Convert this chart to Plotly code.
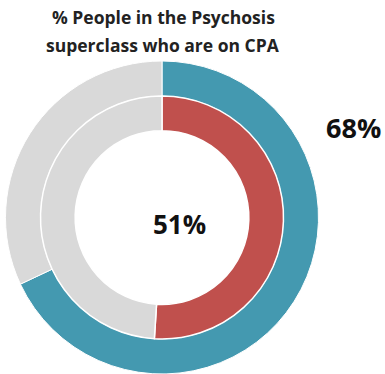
import plotly.graph_objects as go

W, H = 385, 374

outer_labels = ["On CPA", "Not on CPA"]
outer_values = [68, 32]
inner_labels = ["On CPA", "Not on CPA"]
inner_values = [51, 49]
outer_colors = ["#4499B0", "#D9D9D9"]
inner_colors = ["#C0504D", "#D9D9D9"]

title_lines = ["% People in the Psychosis", "superclass who are on CPA"]
outer_label = "68%"
inner_label = "51%"

cx, cy = 162, 217.5  # pixel centre (from top)
R_out, R_in = 156.5, 121.5


def dom(r):
    return dict(
        x=[(cx - r) / W, (cx + r) / W],
        y=[(H - cy - r) / H, (H - cy + r) / H],
    )


fig = go.Figure()
fig.add_trace(go.Pie(
    labels=outer_labels, values=outer_values, hole=0.775,
    domain=dom(R_out), sort=False, direction="clockwise", rotation=0,
    marker=dict(colors=outer_colors, line=dict(color="white", width=1)),
    textinfo="none", hoverinfo="label+percent", showlegend=False,
))
fig.add_trace(go.Pie(
    labels=inner_labels, values=inner_values, hole=0.715,
    domain=dom(R_in), sort=False, direction="clockwise", rotation=0,
    marker=dict(colors=inner_colors, line=dict(color="white", width=1.5)),
    textinfo="none", hoverinfo="label+percent", showlegend=False,
))

for line, ypx in zip(title_lines, [17, 45]):
    fig.add_annotation(text="<b>" + line + "</b>", x=163 / W, y=1 - ypx / H,
                       xref="paper", yref="paper", showarrow=False,
                       font=dict(family="Open Sans", size=17.5, color="#222222"),
                       xanchor="center", yanchor="middle")
fig.add_annotation(text="<b>" + outer_label + "</b>", x=353 / W, y=1 - 127 / H,
                   xref="paper", yref="paper", showarrow=False,
                   font=dict(family="Open Sans", size=27, color="#111111"),
                   xanchor="center", yanchor="middle")
fig.add_annotation(text="<b>" + inner_label + "</b>", x=179.5 / W, y=1 - 224 / H,
                   xref="paper", yref="paper", showarrow=False,
                   font=dict(family="Open Sans", size=26, color="#111111"),
                   xanchor="center", yanchor="middle")

fig.update_layout(width=W, height=H, margin=dict(l=0, r=0, t=0, b=0),
                  paper_bgcolor="white", plot_bgcolor="white")
fig.write_html("out.html", config={"displayModeBar": False},
               post_script="document.body.style.margin='0px';document.body.style.overflow='hidden';")
